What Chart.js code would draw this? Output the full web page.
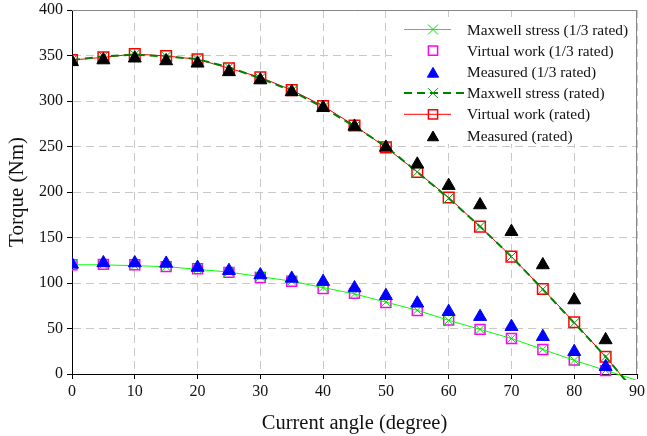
<!DOCTYPE html>
<html>
<head>
<meta charset="utf-8">
<script src="https://cdn.jsdelivr.net/npm/chart.js@4/dist/chart.umd.min.js"></script>
<style>
  html, body { margin: 0; padding: 0; background: #fff; }
  #wrap { width: 647px; height: 436px; }
</style>
</head>
<body>
<div id="wrap"><canvas id="c" width="647" height="436"></canvas></div>
<script>
// current angle (degree)
const angles = [0, 5, 10, 15, 20, 25, 30, 35, 40, 45, 50, 55, 60, 65, 70, 75, 80, 85];
// the computed curves run on past the last point, below zero
const tailAngle = 90;

// 1/3 rated current
const maxwellThird  = [120, 120, 119, 118, 115, 112, 107, 102, 95, 88, 79, 70, 59, 49, 39, 27, 15, 4];
const maxwellThirdTail = -7;
const virtualThird  = [120, 120.5, 120, 118, 115.7, 111.7, 106, 102, 94, 88.6, 78.4, 69.6, 59.3, 49, 39, 27, 15.4, 3.7];
const measuredThird = [120.5, 122, 122, 121.5, 117, 113.5, 108.8, 105, 101.5, 94.5, 86, 77.7, 68.5, 63, 52, 41, 24.5, 8];

// rated current
const maxwellRated  = [345, 349, 351, 349, 346, 337, 325, 311, 293, 272, 250, 222, 193, 162, 129, 93, 56, 19];
const maxwellRatedTail = -22;
const virtualRated  = [345, 348, 351.6, 349.5, 345.8, 336, 326, 312, 294.5, 273, 249, 222, 194, 162, 129, 93.4, 56.8, 19];
const virtualRatedTail = -22;
const measuredRated = [343, 345, 347, 344, 341.4, 332, 323, 310, 292.7, 272, 249, 230.4, 207, 185.7, 156.4, 119.8, 81.3, 37.4];

const xTicks = [0, 10, 20, 30, 40, 50, 60, 70, 80, 90];
const yTicks = [0, 50, 100, 150, 200, 250, 300, 350, 400];

const SERIF = "'Liberation Serif', 'DejaVu Serif', serif";

function pts(vals, tail) {
  const out = angles.map((a, i) => ({ x: a, y: vals[i] }));
  if (tail !== undefined) out.push({ x: tailAngle, y: tail, tail: true });
  return out;
}
// no marker on the tail point
const hideTail = r => ctx => (ctx.raw && ctx.raw.tail ? 0 : r);

const datasets = [
  { label: 'Maxwell stress (1/3 rated)', data: pts(maxwellThird, maxwellThirdTail),
    borderColor: '#00ff00', backgroundColor: 'transparent', borderWidth: 1,
    pointStyle: 'crossRot', pointRadius: hideTail(7), legendRadius: 7, pointBorderColor: '#00dd00', pointBorderWidth: 1,
    showLine: true, order: 2 },
  { label: 'Virtual work (1/3 rated)', data: pts(virtualThird),
    borderColor: '#ff00ff', backgroundColor: 'transparent', borderWidth: 1,
    pointStyle: 'rect', pointRadius: 7, legendRadius: 6.5, pointBorderWidth: 1.5, showLine: false, order: 3 },
  { label: 'Measured (1/3 rated)', data: pts(measuredThird),
    borderColor: '#0000ff', backgroundColor: '#0000ff', borderWidth: 1,
    pointStyle: 'triangle', pointRadius: 7.5, legendRadius: 6.5, showLine: false, order: 0 },
  { label: 'Maxwell stress (rated)', data: pts(maxwellRated, maxwellRatedTail),
    borderColor: '#008000', backgroundColor: 'transparent', borderWidth: 2, borderDash: [8, 5],
    pointStyle: 'crossRot', pointRadius: hideTail(7), legendRadius: 7, pointBorderColor: '#119911', pointBorderWidth: 1,
    showLine: true, order: 1 },
  { label: 'Virtual work (rated)', data: pts(virtualRated, virtualRatedTail),
    borderColor: '#ff0000', backgroundColor: 'transparent', borderWidth: 1,
    pointStyle: 'rect', pointRadius: hideTail(7.5), legendRadius: 6.5, pointBorderWidth: 1.5, showLine: true, order: 3 },
  { label: 'Measured (rated)', data: pts(measuredRated),
    borderColor: '#000000', backgroundColor: '#000000', borderWidth: 1,
    pointStyle: 'triangle', pointRadius: 7.5, legendRadius: 6.5, showLine: false, order: 0 },
];
datasets.forEach(d => { d.clip = { left: 0, top: 0, right: 0, bottom: 6 }; d.tension = 0; });

// gray frame on top/right + legend box inside the plot
const frameAndLegend = {
  id: 'frameAndLegend',
  afterDatasetsDraw(chart) {
    const { ctx, chartArea: a } = chart;
    ctx.save();
    ctx.strokeStyle = '#888';
    ctx.lineWidth = 1;
    ctx.beginPath();
    ctx.moveTo(a.left, a.top + 0.5);
    ctx.lineTo(a.right - 0.5, a.top + 0.5);
    ctx.lineTo(a.right - 0.5, a.bottom);
    ctx.stroke();

    // legend
    const bx = 392, by = 17, bw = a.right - 1 - bx, bh = 127;
    ctx.fillStyle = '#fff';
    ctx.fillRect(bx, by, bw, bh);
    const rowY0 = 29.5, rowH = 21.2;
    chart.data.datasets.forEach((ds, i) => {
      const y = rowY0 + i * rowH;
      if (ds.showLine) {
        ctx.save();
        ctx.strokeStyle = ds.borderColor;
        ctx.lineWidth = ds.borderWidth;
        ctx.setLineDash(ds.borderDash || []);
        ctx.beginPath();
        ctx.moveTo(404, y);
        ctx.lineTo(ds.borderDash ? 466 : 451, y);
        ctx.stroke();
        ctx.restore();
      }
      ctx.save();
      ctx.strokeStyle = ds.pointBorderColor || ds.borderColor;
      ctx.fillStyle = ds.backgroundColor;
      ctx.lineWidth = ds.pointBorderWidth || 1;
      Chart.helpers.drawPoint(ctx, { pointStyle: ds.pointStyle, radius: ds.legendRadius, borderWidth: ctx.lineWidth, rotation: 0 },
        433, y + (ds.pointStyle === 'triangle' ? 2 : 0));
      ctx.restore();
      ctx.fillStyle = '#111';
      ctx.font = '15.4px ' + SERIF;
      ctx.textBaseline = 'middle';
      ctx.fillText(ds.label, 467, y + 1);
    });
    ctx.restore();
  }
};

const gridCommon = {
  color: '#c8c8c8',
  lineWidth: 1,
  tickColor: '#000',
  tickLength: 5,
  tickBorderDash: [],
  tickWidth: 1
};

new Chart(document.getElementById('c'), {
  type: 'scatter',
  data: { datasets },
  options: {
    responsive: false,
    animation: false,
    events: [],
    layout: { padding: { top: 10, right: 10, left: 0, bottom: 0 } },
    plugins: { legend: { display: false }, tooltip: { enabled: false } },
    scales: {
      x: {
        type: 'linear', min: 0, max: 90,
        afterBuildTicks: s => { s.ticks = xTicks.map(v => ({ value: v })); },
        afterFit: s => { s.height = 62; s.paddingLeft = 0; s.paddingRight = 0; },
        grid: { ...gridCommon },
        border: { color: '#000', width: 1, dash: [8, 5] },
        ticks: { color: '#111', font: { family: SERIF, size: 16 }, padding: 3, maxRotation: 0 },
        title: { display: true, text: 'Current angle (degree)', color: '#111',
                 font: { family: SERIF, size: 20.5 }, padding: { top: 3, bottom: 0 } }
      },
      y: {
        type: 'linear', min: 0, max: 400,
        afterBuildTicks: s => { s.ticks = yTicks.map(v => ({ value: v })); },
        afterFit: s => { s.width = 72; s.paddingTop = 0; s.paddingBottom = 0; },
        grid: { ...gridCommon },
        border: { color: '#000', width: 1, dash: [8, 5] },
        ticks: { color: '#111', font: { family: SERIF, size: 16 }, padding: 4 },
        title: { display: true, text: 'Torque (Nm)', color: '#111',
                 font: { family: SERIF, size: 21 }, padding: { top: 5, bottom: 0 } }
      }
    }
  },
  plugins: [frameAndLegend]
});
</script>
</body>
</html>
